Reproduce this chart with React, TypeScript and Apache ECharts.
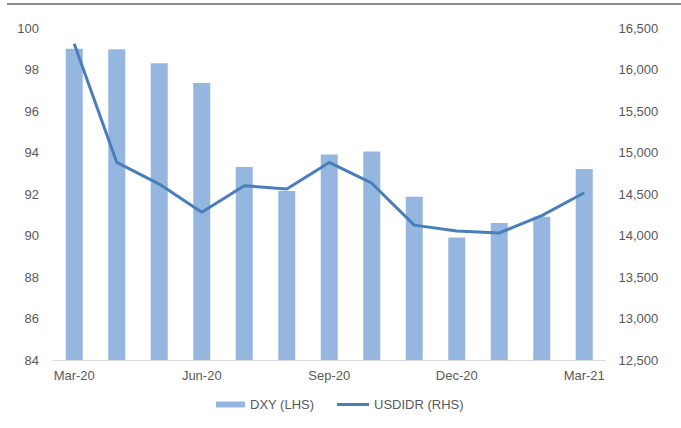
import React, { useEffect, useRef } from "react";
import * as echarts from "echarts";

const months = ["Mar-20","Apr-20","May-20","Jun-20","Jul-20","Aug-20","Sep-20","Oct-20","Nov-20","Dec-20","Jan-21","Feb-21","Mar-21"];
const dxy = [99.0, 98.97, 98.3, 97.35, 93.3, 92.15, 93.9, 94.05, 91.87, 89.9, 90.6, 90.9, 93.2];
const usdidr = [16310, 14880, 14620, 14280, 14600, 14560, 14880, 14630, 14125, 14055, 14030, 14240, 14515];
const seriesNames = ["DXY (LHS)", "USDIDR (RHS)"];

const labelColor = "#595959";
const fontFamily = "'Liberation Sans', Arial, sans-serif";

export default function App() {
  const ref = useRef<HTMLDivElement>(null);
  useEffect(() => {
    if (!ref.current) return;
    const chart = echarts.init(ref.current, null, { renderer: "svg" });
    chart.setOption({
      animation: false,
      textStyle: { fontFamily },
      grid: { left: 53, right: 75.5, top: 28, bottom: 68, containLabel: false },
      graphic: [
        { type: "line", shape: { x1: 7, y1: 4, x2: 681, y2: 4 }, style: { stroke: "#8c8c8c", lineWidth: 2 } },
      ],
      legend: [
        {
          data: [seriesNames[0]],
          left: 216,
          top: 398,
          padding: 0,
          icon: "rect",
          itemWidth: 29,
          itemHeight: 6,
          textStyle: { color: labelColor, fontSize: 13, fontFamily },
        },
        {
          data: [seriesNames[1]],
          left: 337,
          top: 398,
          padding: 0,
          icon: "rect",
          itemWidth: 32,
          itemHeight: 3,
          textStyle: { color: labelColor, fontSize: 13, fontFamily },
        },
      ],
      xAxis: {
        type: "category",
        data: months,
        boundaryGap: true,
        axisLine: { lineStyle: { color: "#d9d9d9", width: 1 } },
        axisTick: { interval: 2, length: 4, lineStyle: { color: "#d9d9d9" } },
        axisLabel: { interval: 2, color: labelColor, fontSize: 13, margin: 9, fontFamily },
      },
      yAxis: [
        {
          type: "value",
          min: 84,
          max: 100,
          interval: 2,
          axisLine: { show: false },
          axisTick: { show: false },
          splitLine: { show: false },
          axisLabel: { color: labelColor, fontSize: 13, margin: 14, fontFamily },
        },
        {
          type: "value",
          min: 12500,
          max: 16500,
          interval: 500,
          position: "right",
          axisLine: { show: false },
          axisTick: { show: false },
          splitLine: { show: false },
          axisLabel: {
            color: labelColor,
            fontSize: 13,
            margin: 13,
            fontFamily,
            formatter: (v: number) => v.toLocaleString("en-US"),
          },
        },
      ],
      series: [
        {
          name: seriesNames[0],
          type: "bar",
          data: dxy,
          yAxisIndex: 0,
          barWidth: "40%",
          itemStyle: { color: "#95b7df" },
        },
        {
          name: seriesNames[1],
          type: "line",
          data: usdidr,
          yAxisIndex: 1,
          showSymbol: false,
          symbol: "none",
          lineStyle: { color: "#4a7ebb", width: 3 },
          itemStyle: { color: "#4a7ebb" },
        },
      ],
    });
    return () => chart.dispose();
  }, []);
  return (
    <div
      ref={ref}
      style={{ position: "fixed", left: 0, top: 0, width: 681, height: 428, background: "#fff" }}
    />
  );
}
